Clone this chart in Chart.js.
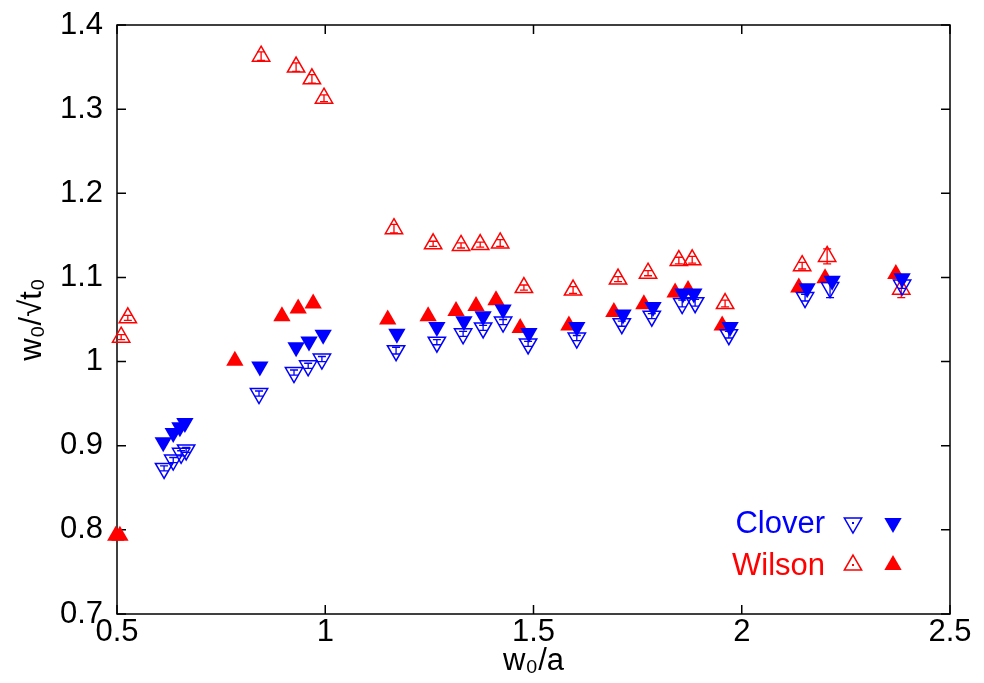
<!DOCTYPE html>
<html>
<head>
<meta charset="utf-8">
<script src="https://cdn.jsdelivr.net/npm/chart.js@4.4.0/dist/chart.umd.min.js"></script>
<style>
  html, body { margin: 0; padding: 0; background: #fff; }
  #wrap { width: 984px; height: 683px; }
</style>
</head>
<body>
<div id="wrap"><canvas id="myChart" width="984" height="683"></canvas></div>
<script>
// Clover, open markers (down triangles)
const cloverOpenX = [0.613, 0.635, 0.654, 0.666, 0.841, 0.925, 0.959, 0.992, 1.170, 1.268, 1.331, 1.379, 1.427, 1.487, 1.604, 1.712, 1.784, 1.857, 1.888, 1.969, 2.152, 2.212, 2.385];
const cloverOpenY = [0.873, 0.883, 0.891, 0.895, 0.962, 0.987, 0.995, 1.003, 1.013, 1.023, 1.033, 1.040, 1.047, 1.021, 1.028, 1.045, 1.054, 1.069, 1.070, 1.032, 1.076, 1.088, 1.091];
const cloverOpenErr = [0.003, 0.003, 0.003, 0.003, 0.003, 0.003, 0.003, 0.003, 0.004, 0.003, 0.003, 0.003, 0.003, 0.003, 0.003, 0.003, 0.003, 0.004, 0.004, 0.004, 0.004, 0.012, 0.004];

// Clover, filled markers
const cloverFillX = [0.611, 0.635, 0.651, 0.663, 0.843, 0.930, 0.961, 0.995, 1.172, 1.268, 1.333, 1.379, 1.427, 1.489, 1.604, 1.715, 1.787, 1.859, 1.885, 1.972, 2.157, 2.217, 2.385];
const cloverFillY = [0.904, 0.915, 0.922, 0.927, 0.994, 1.017, 1.024, 1.032, 1.033, 1.041, 1.048, 1.054, 1.062, 1.034, 1.041, 1.056, 1.065, 1.081, 1.081, 1.041, 1.087, 1.096, 1.099];

// Wilson, open markers (up triangles)
const wilsonOpenX = [0.510, 0.526, 0.846, 0.930, 0.968, 0.997, 1.165, 1.259, 1.326, 1.372, 1.420, 1.477, 1.595, 1.703, 1.775, 1.849, 1.881, 1.960, 2.145, 2.205, 2.383];
const wilsonOpenY = [1.029, 1.052, 1.363, 1.350, 1.336, 1.313, 1.158, 1.140, 1.138, 1.139, 1.141, 1.088, 1.085, 1.098, 1.105, 1.120, 1.121, 1.069, 1.114, 1.125, 1.086];
const wilsonOpenErr = [0.003, 0.003, 0.005, 0.005, 0.005, 0.004, 0.005, 0.003, 0.003, 0.003, 0.004, 0.003, 0.004, 0.003, 0.003, 0.004, 0.004, 0.004, 0.004, 0.009, 0.010];

// Wilson, filled markers
const wilsonFillX = [0.497, 0.507, 0.783, 0.896, 0.935, 0.971, 1.150, 1.247, 1.314, 1.362, 1.410, 1.468, 1.585, 1.693, 1.765, 1.840, 1.871, 1.953, 2.137, 2.200, 2.370];
const wilsonFillY = [0.793, 0.793, 1.001, 1.054, 1.063, 1.069, 1.050, 1.054, 1.060, 1.066, 1.073, 1.040, 1.043, 1.059, 1.068, 1.082, 1.085, 1.043, 1.088, 1.099, 1.104];

const xTicks = [0.5, 1, 1.5, 2, 2.5];
const yTicks = [0.7, 0.8, 0.9, 1.0, 1.1, 1.2, 1.3, 1.4];

const BLUE = '#0000ff';
const RED = '#ff0000';
const FONT = 'Liberation Sans, Arial, sans-serif';

function toPoints(xs, ys) {
    return xs.map((x, i) => ({ x: x, y: ys[i] }));
}

function tri(ctx, x, y, r, down, filled, color) {
    // same geometry as the chart's 'triangle' point style
    let rad = down ? Math.PI : 0;
    ctx.beginPath();
    for (let k = 0; k < 3; k++) {
        const px = x + Math.sin(rad) * r;
        const py = y - Math.cos(rad) * r;
        if (k === 0) ctx.moveTo(px, py); else ctx.lineTo(px, py);
        rad += 2 * Math.PI / 3;
    }
    ctx.closePath();
    if (filled) {
        ctx.fillStyle = color;
        ctx.fill();
    } else {
        ctx.strokeStyle = color;
        ctx.lineWidth = 1.5;
        ctx.stroke();
    }
}

// box + inward ticks on all four sides
const frame = {
    id: 'frame',
    beforeDatasetsDraw(chart) {
        const { ctx, chartArea: a } = chart;
        const xs = chart.scales.x, ys = chart.scales.y;
        ctx.save();
        ctx.strokeStyle = '#000';
        ctx.lineWidth = 1.5;
        ctx.strokeRect(a.left, a.top, a.right - a.left, a.bottom - a.top);
        ctx.beginPath();
        xTicks.forEach(v => {
            const px = xs.getPixelForValue(v);
            ctx.moveTo(px, a.bottom); ctx.lineTo(px, a.bottom - 9);
            ctx.moveTo(px, a.top); ctx.lineTo(px, a.top + 9);
        });
        yTicks.forEach(v => {
            const py = ys.getPixelForValue(v);
            ctx.moveTo(a.left, py); ctx.lineTo(a.left + 9, py);
            ctx.moveTo(a.right, py); ctx.lineTo(a.right - 9, py);
        });
        ctx.stroke();
        ctx.restore();
    }
};

// vertical error bars for the open markers
const errorBars = {
    id: 'errorBars',
    afterDatasetDraw(chart, args) {
        const ds = chart.data.datasets[args.index];
        if (!ds.errors) return;
        const ctx = chart.ctx;
        const xs = chart.scales.x, ys = chart.scales.y;
        ctx.save();
        ctx.strokeStyle = ds.borderColor;
        ctx.lineWidth = 1.3;
        ds.data.forEach((p, i) => {
            const px = xs.getPixelForValue(p.x);
            const y1 = ys.getPixelForValue(p.y - ds.errors[i]);
            const y2 = ys.getPixelForValue(p.y + ds.errors[i]);
            ctx.beginPath();
            ctx.moveTo(px, y1); ctx.lineTo(px, y2);
            ctx.moveTo(px - 4, y1); ctx.lineTo(px + 4, y1);
            ctx.moveTo(px - 4, y2); ctx.lineTo(px + 4, y2);
            ctx.stroke();
        });
        ctx.restore();
    }
};

// gnuplot style key in the lower right
const keyBox = {
    id: 'keyBox',
    afterDraw(chart) {
        const ctx = chart.ctx;
        const rows = [
            { label: 'Clover', color: BLUE, down: true, y: 523 },
            { label: 'Wilson', color: RED, down: false, y: 565 }
        ];
        ctx.save();
        ctx.font = '31px ' + FONT;
        ctx.textAlign = 'right';
        ctx.textBaseline = 'middle';
        rows.forEach(r => {
            ctx.fillStyle = r.color;
            ctx.fillText(r.label, 825, r.y + 1);
            tri(ctx, 853, r.y, 10, r.down, false, r.color);
            ctx.fillStyle = r.color;
            ctx.fillRect(852, r.y - 1, 2, 2);
            tri(ctx, 893, r.y, 10, r.down, true, r.color);
        });
        ctx.restore();
    }
};

function fmt(v) {
    return String(Number(v.toFixed(2)));
}

const ctx = document.getElementById('myChart').getContext('2d');
new Chart(ctx, {
    type: 'scatter',
    data: {
        datasets: [
            {
                label: 'Clover filled',
                data: toPoints(cloverFillX, cloverFillY),
                pointStyle: 'triangle',
                rotation: 180,
                pointRadius: 10,
                backgroundColor: BLUE,
                borderColor: BLUE,
                borderWidth: 0,
                clip: false
            },
            {
                label: 'Clover open',
                data: toPoints(cloverOpenX, cloverOpenY),
                errors: cloverOpenErr,
                pointStyle: 'triangle',
                rotation: 180,
                pointRadius: 10,
                backgroundColor: 'rgba(0,0,0,0)',
                borderColor: BLUE,
                borderWidth: 1.5,
                clip: false
            },
            {
                label: 'Wilson filled',
                data: toPoints(wilsonFillX, wilsonFillY),
                pointStyle: 'triangle',
                pointRadius: 10,
                backgroundColor: RED,
                borderColor: RED,
                borderWidth: 0,
                clip: false
            },
            {
                label: 'Wilson open',
                data: toPoints(wilsonOpenX, wilsonOpenY),
                errors: wilsonOpenErr,
                pointStyle: 'triangle',
                pointRadius: 10,
                backgroundColor: 'rgba(0,0,0,0)',
                borderColor: RED,
                borderWidth: 1.5,
                clip: false
            }
        ]
    },
    options: {
        responsive: false,
        animation: false,
        layout: { padding: { top: 25, right: 34, left: 0, bottom: 0 } },
        plugins: {
            legend: { display: false },
            tooltip: { enabled: false }
        },
        scales: {
            x: {
                type: 'linear',
                min: 0.5,
                max: 2.5,
                afterBuildTicks: s => { s.ticks = xTicks.map(v => ({ value: v })); },
                afterFit: s => { s.height = 69; },
                grid: { display: false, drawTicks: false },
                border: { display: false },
                ticks: { color: '#000', font: { family: FONT, size: 31 }, padding: 0, maxRotation: 0, callback: fmt },
                title: { display: true, text: 'w₀/a', color: '#000', font: { family: FONT, size: 31 }, padding: { top: 0, bottom: 3 } }
            },
            y: {
                type: 'linear',
                min: 0.7,
                max: 1.4,
                afterBuildTicks: s => { s.ticks = yTicks.map(v => ({ value: v })); },
                afterFit: s => { s.width = 117; s.paddingTop = 0; s.paddingBottom = 0; },
                grid: { display: false, drawTicks: false },
                border: { display: false },
                ticks: { color: '#000', font: { family: FONT, size: 31 }, padding: 14, callback: fmt },
                title: { display: true, text: 'w₀/√t₀', color: '#000', font: { family: FONT, size: 31 }, padding: { top: 14, bottom: 0 } }
            }
        }
    },
    plugins: [frame, errorBars, keyBox]
});
</script>
</body>
</html>
